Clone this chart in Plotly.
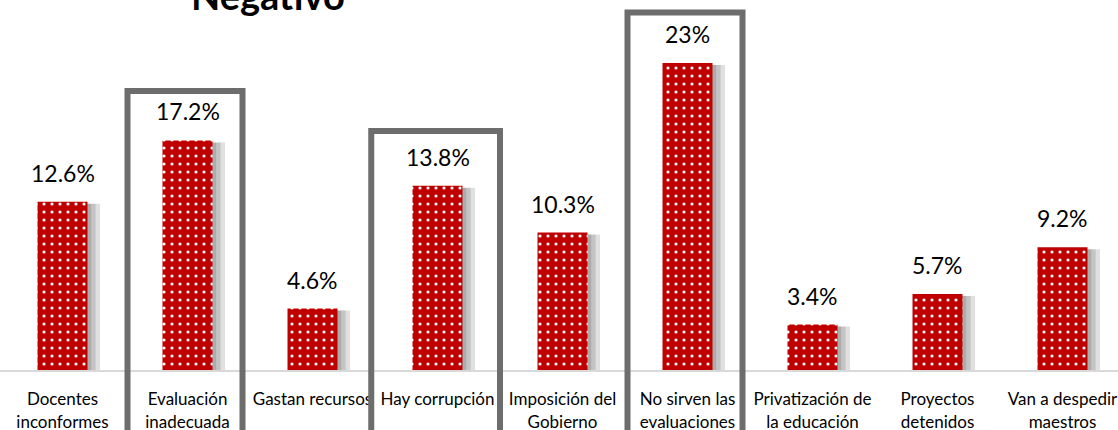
import plotly.graph_objects as go

# Datos del gráfico "Negativo"
categorias = [
    "Docentes<br>inconformes",
    "Evaluación<br>inadecuada",
    "Gastan recursos",
    "Hay corrupción",
    "Imposición del<br>Gobierno",
    "No sirven las<br>evaluaciones",
    "Privatización de<br>la educación",
    "Proyectos<br>detenidos",
    "Van a despedir<br>maestros",
]
porcentajes = [12.6, 17.2, 4.6, 13.8, 10.3, 23, 3.4, 5.7, 9.2]
destacados = [1, 3, 5]  # categorías enmarcadas

FUENTE = "Lato, Noto Sans, sans-serif"
ROJO = "#c00000"
ANCHO, ALTO, BASE = 1118, 430, 60
ALTO_PLOT = ALTO - BASE
Y_MAX = ALTO_PLOT / 13.35
X_RANGE = [-0.5, 8.444]
x = list(range(len(categorias)))

fig = go.Figure()

# sombra suave a la derecha de cada barra
for dx in [0.03, 0.065, 0.10]:
    fig.add_trace(go.Bar(
        x=x, y=[v - 0.15 for v in porcentajes],
        width=0.4, offset=-0.2 + dx,
        marker=dict(color="rgba(0,0,0,0.12)", line=dict(width=0)),
        hoverinfo="skip", showlegend=False,
    ))

fig.add_trace(go.Bar(
    x=x, y=porcentajes,
    width=0.4, offset=-0.2,
    marker=dict(
        color=ROJO,
        line=dict(width=0),
        pattern=dict(shape=".", fgcolor="white", bgcolor=ROJO,
                     size=8, solidity=0.12, fillmode="replace"),
    ),
    showlegend=False,
))

# etiquetas de datos
for xi, v in zip(x, porcentajes):
    fig.add_annotation(
        x=xi, y=v, text=f"{v:g}%", showarrow=False,
        yanchor="bottom", yshift=13,
        font=dict(family=FUENTE, size=23, color="#000000"),
    )

# marcos grises alrededor de las categorías destacadas (x0, x1, borde superior en px)
marcos = {1: (0.52, 1.44, 91), 3: (2.47, 3.50, 131), 5: (4.52, 5.44, 12.5)}
for i in destacados:
    x0, x1, top_px = marcos[i]
    fig.add_shape(
        type="rect", xref="x", yref="paper",
        x0=x0, x1=x1, y0=-0.3, y1=(ALTO_PLOT - top_px) / ALTO_PLOT,
        line=dict(color="#6d6d6d", width=6), layer="above",
    )

# título (cortado en la parte superior, como en el original)
fig.add_annotation(
    x=268 / ANCHO, y=1 + 5 / ALTO_PLOT, xref="paper", yref="paper",
    text="<b>Negativo</b>", showarrow=False,
    xanchor="center", yanchor="middle",
    font=dict(family=FUENTE, size=38, color="#000000"),
)

fig.update_layout(
    width=ANCHO, height=ALTO,
    margin=dict(l=0, r=0, t=0, b=BASE),
    barmode="overlay",
    plot_bgcolor="white", paper_bgcolor="white",
    font=dict(family=FUENTE),
)
fig.update_xaxes(
    tickmode="array", tickvals=x, ticktext=categorias,
    range=X_RANGE, showgrid=False, zeroline=False, automargin=False,
    showline=True, linecolor="#d9d9d9", linewidth=2,
    ticks="", ticklabelstandoff=13, ticklabeloverflow="allow",
    tickfont=dict(family=FUENTE, size=17, color="#000000"),
)
fig.update_yaxes(range=[0, Y_MAX], visible=False, showgrid=False, automargin=False)

# sin margen en la página para que la figura ocupe toda la ventana
fig.write_html(
    "out.html",
    config={"displayModeBar": False},
    post_script="document.body.style.margin = '0';",
)
